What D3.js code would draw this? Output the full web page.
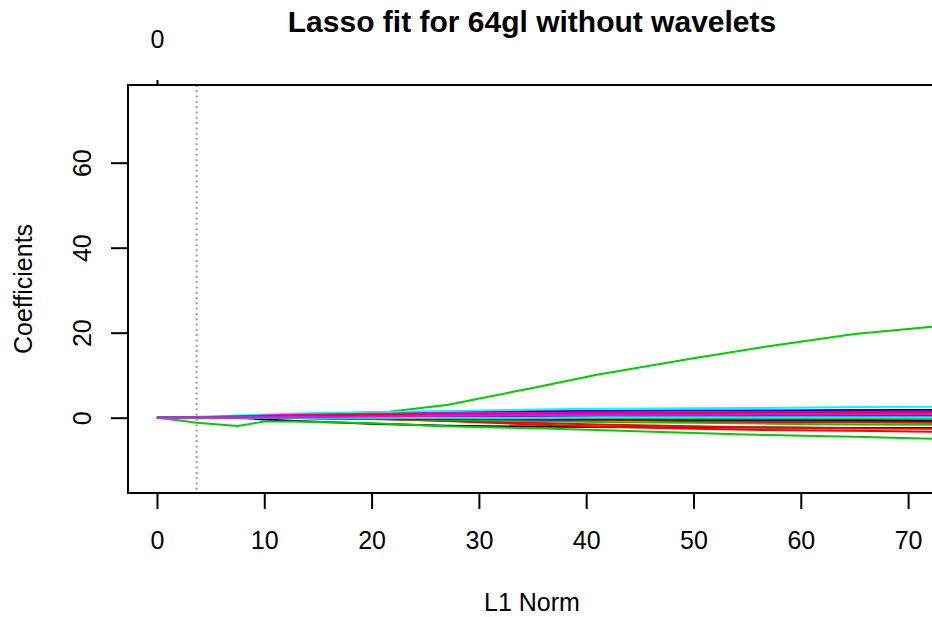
<!DOCTYPE html>
<html>
<head>
<meta charset="utf-8">
<script src="https://cdn.jsdelivr.net/npm/d3@7"></script>
<style>
  html, body { margin: 0; padding: 0; background: #fff; }
  svg { display: block; font-family: "Liberation Sans", Arial, sans-serif; }
</style>
</head>
<body>
<svg id="chart" width="932" height="617"></svg>
<script>
// ---- data ----
const title = "Lasso fit for 64gl without wavelets";
const xLabel = "L1 Norm";
const yLabel = "Coefficients";
const xTicks = [0, 10, 20, 30, 40, 50, 60, 70];
const yTicks = [0, 20, 40, 60];
const topTicks = [0];
const topTickLabels = ["0"];
const selectedL1 = 3.7;
// L1 norm values at which the path is sampled
const knots = [0, 2, 3.7, 7.5, 10, 13, 20, 27, 35, 41, 50, 57, 65, 73];
// R palette cycle (black, red, green3, blue, cyan, magenta, yellow, gray)
const palette = ["#000000", "#FF0000", "#00CD00", "#0000FF", "#00FFFF", "#FF00FF", "#FFFF00", "#BEBEBE"];
// coefficient paths, colored by palette[i % 8]
const coefs = [
  [0,0,0,0,-0.4,-0.8,-1.4,-1.9,-2.1,-2.2,-2.3,-2.3,-2.4,-2.4],
  [0,0,0,0,0,0,-0.2,-0.8,-1.6,-2.1,-2.6,-2.9,-3.1,-3.3],
  [0,0,0,0,0.1,0.3,0.9,3.0,7.0,10.1,14.0,16.8,19.7,21.6],
  [0,0,0.1,0.3,0.5,0.8,1.2,1.4,1.5,1.6,1.7,1.7,1.8,1.8],
  [0,0.1,0.2,0.5,0.7,1.0,1.3,1.6,1.9,2.1,2.2,2.3,2.5,2.6],
  [0,0,0.1,0.3,0.5,0.7,0.9,1.0,1.1,1.2,1.2,1.3,1.3,1.3],
  [0,0,0,0,0,0,0,0.1,0.1,0.1,0.2,0.2,0.2,0.2],
  [0,0,0,0,0,0,-0.1,-0.2,-0.3,-0.3,-0.4,-0.4,-0.5,-0.5],

  [0,0,0.05,0.1,0.2,0.3,0.5,0.6,0.7,0.8,0.9,1.0,1.0,1.1],
  [0,0,0.1,0.2,0.3,0.5,0.7,0.9,1.0,1.1,1.2,1.3,1.4,1.4],
  [0,-0.6,-1.2,-1.95,-0.9,-0.9,-1.3,-2.0,-2.5,-2.9,-3.6,-4.1,-4.5,-5.0],
  [0,0,0,0.1,0.2,0.3,0.5,0.6,0.7,0.8,0.9,0.9,1.0,1.0],
  [0,0,0,0,0.1,0.2,0.4,0.5,0.6,0.6,0.7,0.7,0.8,0.8],
  [0,0,0.1,0.2,0.4,0.6,0.8,0.9,1.0,1.0,1.1,1.1,1.2,1.2],
  [0,0,0,0,0,0,0,0,-0.1,-0.1,-0.1,-0.1,-0.2,-0.2],
  [0,0,0,0,0,-0.1,-0.2,-0.3,-0.4,-0.5,-0.6,-0.6,-0.7,-0.7],

  [0,0,0,0,0,-0.1,-0.2,-0.3,-0.4,-0.5,-0.6,-0.6,-0.7,-0.8],
  [0,0,0,0,0,0,-0.3,-0.7,-1.2,-1.6,-2.0,-2.3,-2.5,-2.6],
  [0,0,0,0,0,-0.1,-0.3,-0.5,-0.8,-1.0,-1.2,-1.4,-1.6,-1.7],
  [0,0,0.05,0.1,0.2,0.3,0.4,0.5,0.6,0.6,0.7,0.7,0.8,0.8],
  [0,0,0,0,0,0,-0.1,-0.2,-0.3,-0.3,-0.4,-0.5,-0.5,-0.6],
  [0,0,0,0.1,0.2,0.3,0.5,0.6,0.7,0.8,0.8,0.9,0.9,1.0],
  [0,0,0,0,0,0,0.1,0.1,0.2,0.2,0.2,0.3,0.3,0.3],
  [0,0,0,0,0,0,0,-0.1,-0.2,-0.2,-0.3,-0.3,-0.3,-0.4],

  [0,0,0,0,0.1,0.2,0.3,0.4,0.5,0.5,0.6,0.6,0.7,0.7],
  [0,0,0,0,0,0.1,0.2,0.4,0.6,0.7,0.8,0.9,1.0,1.1],
  [0,0,0,0,0,0,-0.1,-0.3,-0.4,-0.5,-0.6,-0.6,-0.7,-0.7],
  [0,0,0,0,-0.1,-0.1,-0.2,-0.3,-0.4,-0.5,-0.6,-0.7,-0.7,-0.8],
  [0,0,0,0,0,0.1,0.2,0.3,0.3,0.4,0.4,0.5,0.5,0.5],
  [0,0,0,0,0.1,0.2,0.3,0.4,0.5,0.6,0.6,0.7,0.7,0.8],
  [0,0,0,0,0,0,0,0,0,0.1,0.1,0.1,0.1,0.1],
  [0,0,0,0,0,0,0.1,0.2,0.2,0.3,0.3,0.4,0.4,0.4],

  [0,0,0,0,0,0,0.1,0.2,0.3,0.4,0.4,0.5,0.5,0.6],
  [0,0,0,0,0,0,0,-0.1,-0.3,-0.5,-0.8,-1.0,-1.1,-1.2],
  [0,0,0,0,0,0,0,0.1,0.2,0.2,0.3,0.3,0.4,0.4],
  [0,0,0,0,0,0.1,0.2,0.3,0.3,0.4,0.4,0.4,0.5,0.5],
  [0,0,0,0,0,0,0.1,0.1,0.2,0.2,0.2,0.3,0.3,0.3],
  [0,0,0,0,0,0.1,0.2,0.3,0.4,0.4,0.5,0.5,0.6,0.6],
  [0,0,0,0,0,0,0,0,0,0,0,0,0,0],
  [0,0,0,0,0,0,0,0,-0.1,-0.1,-0.1,-0.2,-0.2,-0.2],

  [0,0,0,0,0,0,-0.1,-0.2,-0.3,-0.3,-0.4,-0.4,-0.5,-0.5],
  [0,0.05,0.1,0.2,0.3,0.5,0.7,0.8,0.9,1.0,1.1,1.2,1.2,1.3],
  [0,0,0,0,0,0,0,0,-0.1,-0.1,-0.2,-0.2,-0.2,-0.3],
  [0,0,0,0,0,0,0.1,0.1,0.2,0.2,0.3,0.3,0.3,0.3],
  [0,0,0,0,0,0,0,0,0,0.1,0.1,0.1,0.1,0.1],
  [0,0,0,0,0.05,0.1,0.3,0.5,0.6,0.7,0.7,0.8,0.8,0.9]
];

// ---- layout ----
const mLeft = 128, mRight = 936, mTop = 85, mBottom = 493;
const svg = d3.select("#chart");

const x = d3.scaleLinear().domain([-2.7, 72.6]).range([mLeft, mRight]);
const y = d3.scaleLinear().domain([-17.72, 78.28]).range([mBottom, mTop]);

svg.append("defs").append("clipPath").attr("id", "plotclip")
  .append("rect").attr("x", mLeft).attr("y", mTop)
  .attr("width", mRight - mLeft).attr("height", mBottom - mTop);

// paths
const line = d3.line().x((d, i) => x(knots[i])).y(d => y(d));
svg.append("g").attr("clip-path", "url(#plotclip)")
  .selectAll("path").data(coefs).join("path")
  .attr("d", d => line(d))
  .attr("fill", "none")
  .attr("stroke", (d, i) => palette[i % palette.length])
  .attr("stroke-width", 2)
  .attr("stroke-linejoin", "round");

// selected lambda line
svg.append("line")
  .attr("x1", x(selectedL1)).attr("x2", x(selectedL1))
  .attr("y1", mTop).attr("y2", mBottom)
  .attr("stroke", "#9a9a9a").attr("stroke-width", 2)
  .attr("stroke-dasharray", "2,3.3");

// box
svg.append("rect")
  .attr("x", mLeft).attr("y", mTop)
  .attr("width", mRight - mLeft).attr("height", mBottom - mTop)
  .attr("fill", "none").attr("stroke", "#000").attr("stroke-width", 2);

// bottom axis
const xAxis = d3.axisBottom(x).tickValues(xTicks).tickSize(16).tickFormat(d3.format("d"));
const gx = svg.append("g").attr("transform", `translate(0,${mBottom})`).call(xAxis);
gx.select(".domain").remove();
gx.selectAll(".tick line").attr("stroke", "#000").attr("stroke-width", 2);
gx.selectAll(".tick text")
  .attr("y", 56).attr("dy", null)
  .attr("font-size", 25).attr("fill", "#000")
  .attr("font-family", "Liberation Sans, Arial, sans-serif");

// left axis
const yAxis = d3.axisLeft(y).tickValues(yTicks).tickSize(17).tickFormat(d3.format("d"));
const gy = svg.append("g").attr("transform", `translate(${mLeft},0)`).call(yAxis);
gy.select(".domain").remove();
gy.selectAll(".tick line").attr("stroke", "#000").attr("stroke-width", 2);
gy.selectAll(".tick text")
  .attr("x", null).attr("dy", null)
  .attr("text-anchor", "middle")
  .attr("transform", "translate(-37,0) rotate(-90)")
  .attr("font-size", 25).attr("fill", "#000")
  .attr("font-family", "Liberation Sans, Arial, sans-serif");

// top axis (degrees of freedom)
const xTop = d3.axisTop(x).tickValues(topTicks).tickSize(5).tickFormat((d, i) => topTickLabels[i]);
const gt = svg.append("g").attr("transform", `translate(0,${mTop})`).call(xTop);
gt.select(".domain").remove();
gt.selectAll(".tick line").attr("stroke", "#000").attr("stroke-width", 2);
gt.selectAll(".tick text")
  .attr("y", -37).attr("dy", null)
  .attr("font-size", 25).attr("fill", "#000")
  .attr("font-family", "Liberation Sans, Arial, sans-serif");

// title
svg.append("text")
  .attr("x", (mLeft + mRight) / 2).attr("y", 32)
  .attr("text-anchor", "middle")
  .attr("font-size", 30).attr("font-weight", "bold")
  .text(title);

// axis titles
svg.append("text")
  .attr("x", (mLeft + mRight) / 2).attr("y", 611)
  .attr("text-anchor", "middle").attr("font-size", 25)
  .text(xLabel);

svg.append("text")
  .attr("transform", `translate(32,${(mTop + mBottom) / 2}) rotate(-90)`)
  .attr("text-anchor", "middle").attr("font-size", 25)
  .text(yLabel);
</script>
</body>
</html>
